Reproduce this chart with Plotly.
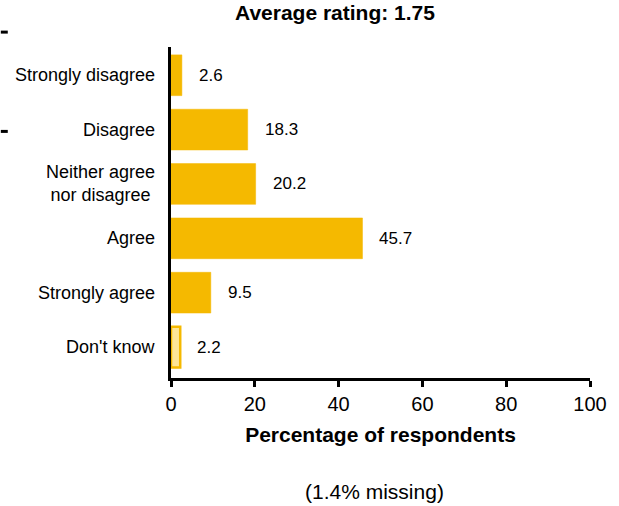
import plotly.graph_objects as go

categories = ["Strongly disagree", "Disagree", "Neither agree<br>nor disagree",
              "Agree", "Strongly agree", "Don't know"]
values = [2.6, 18.3, 20.2, 45.7, 9.5, 2.2]
value_labels = ["2.6", "18.3", "20.2", "45.7", "9.5", "2.2"]
x_ticks = [0, 20, 40, 60, 80, 100]

main_col = "#F5B900"
fills = [main_col] * 5 + ["#FDE597"]
FONT = "Liberation Sans, Arial"

fig = go.Figure()
fig.add_trace(go.Bar(
    y=categories, x=values, orientation="h",
    marker=dict(color=fills, line=dict(color=main_col, width=[0.5]*5 + [2.5])),
    width=0.75, hoverinfo="skip",
))

for c, v, t in zip(categories, values, value_labels):
    fig.add_annotation(x=v, y=c, text=t, showarrow=False, xanchor="left",
                       xshift=15, font=dict(size=17, color="black", family=FONT))

for c in categories:
    fig.add_annotation(x=0, xref="paper", y=c, yref="y", text=c, showarrow=False,
                       xanchor="right", align="center", xshift=-14,
                       font=dict(size=18, color="black", family=FONT))

fig.update_layout(
    width=619, height=506,
    margin=dict(l=171, r=27, t=47, b=128),
    plot_bgcolor="white", paper_bgcolor="white",
    showlegend=False,
    font=dict(family=FONT, color="black"),
    bargap=0.25,
)
fig.update_yaxes(
    type="category", categoryorder="array", categoryarray=categories,
    range=[5.57, -0.52], showline=True, linecolor="black", linewidth=3,
    ticks="", showgrid=False, showticklabels=False, fixedrange=True,
)
fig.update_xaxes(
    range=[0, 100], tickvals=x_ticks, showline=True, linecolor="black", linewidth=3,
    ticks="outside", ticklen=6, tickwidth=3, tickcolor="black", showgrid=False,
    zeroline=False, tickfont=dict(size=20), fixedrange=True,
    title=dict(text="<b>Percentage of respondents</b>", font=dict(size=21), standoff=14),
)

fig.add_annotation(text="<b>Average rating: 1.75</b>", xref="paper", yref="paper",
                   x=(336 - 171) / 421, y=1, yshift=35, showarrow=False,
                   font=dict(size=21), xanchor="center", yanchor="middle")
fig.add_annotation(text="(1.4% missing)", xref="paper", yref="paper",
                   x=(375 - 171) / 421, y=0, yshift=-113, showarrow=False,
                   font=dict(size=21), xanchor="center", yanchor="middle")

# small dashes at the left edge
for yy in [1.045, 0.745]:
    fig.add_shape(type="line", xref="paper", yref="paper",
                  x0=-171/421, x1=-164/421, y0=yy, y1=yy,
                  line=dict(color="black", width=3))

fig.write_html("out.html", config={"displayModeBar": False},
               post_script="document.body.style.margin='0';")
